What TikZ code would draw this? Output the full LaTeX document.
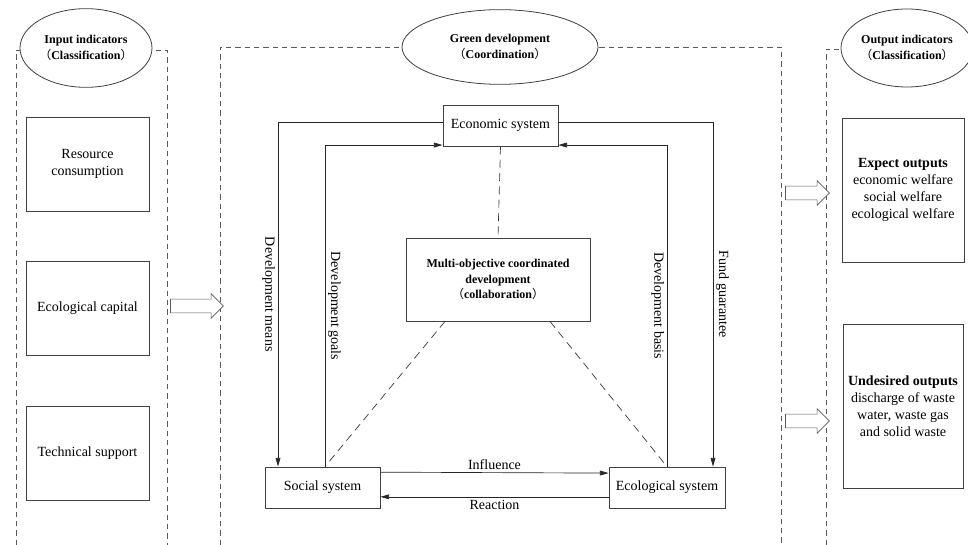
\documentclass[tikz,border=0pt]{standalone}
\usepackage{fontspec}
\setmainfont{Liberation Serif}
\newfontfamily\cjk{Noto Sans CJK SC}
\usetikzlibrary{shapes.geometric, shapes.arrows, arrows.meta, positioning}
\newcommand{\fwlp}{{\cjk\mdseries （}}
\newcommand{\fwrp}{{\cjk\mdseries ）}}

\tikzset{
  box/.style={draw=black!75, line width=0.6pt, align=center, inner sep=2pt,
    font=\fontsize{10.5}{13}\selectfont},
  title/.style={ellipse, draw=black!75, fill=white, line width=0.6pt, align=center,
    inner sep=0pt, font=\bfseries\fontsize{9}{11.5}\selectfont},
  frame/.style={draw=black!65, line width=0.5pt, dash pattern=on 4pt off 3pt},
  link/.style={draw=black!85, line width=0.5pt, -{Triangle[length=6.5pt,width=3.6pt]}},
  tie/.style={draw=black!80, line width=0.5pt, dash pattern=on 6pt off 4pt},
  lbl/.style={inner sep=2pt, font=\fontsize{10.5}{13}\selectfont},
  fat/.style={single arrow, draw=black!65, fill=white, line width=0.5pt,
    inner xsep=0pt, inner ysep=4.9pt, single arrow head extend=4.1pt}
}

\begin{document}
\begin{tikzpicture}[x=0.75pt, y=-0.75pt]
    \path[use as bounding box, fill=white] (0,0) rectangle (968,545);
    % Dashed frames of the three columns
    \draw[frame] (16,545) -- (16,50) -- (167,50) -- (167,545);
    \draw[frame] (220,545) -- (220,47) -- (781,47) -- (781,545);
    \draw[frame] (826,545) -- (826,49) -- (968,49);

    % Column titles
    \node[title, minimum width=88.5pt, minimum height=59pt] (inTitle) at (86,48)
        {Input indicators\\{\fwlp}Classification{\fwrp}};
    \node[title, minimum width=147pt, minimum height=56pt] (greenTitle) at (500,47)
        {Green development\\{\fwlp}Coordination{\fwrp}};
    \node[title, minimum width=90pt, minimum height=58.5pt] (outTitle) at (907,48)
        {Output indicators\\{\fwlp}Classification{\fwrp}};

    % Input indicators
    \node[box, minimum width=92.25pt, minimum height=70.5pt] (res) at (87.5,164) {Resource\\consumption};
    \node[box, minimum width=92.25pt, minimum height=70.5pt] (ecocap) at (87.5,308) {Ecological capital};
    \node[box, minimum width=92.25pt, minimum height=70.5pt] (tech) at (87.5,453) {Technical support};

    % Systems
    \node[box, minimum width=86.25pt, minimum height=30.75pt] (econ) at (500.5,125.5) {Economic system};
    \node[box, minimum width=138pt, minimum height=62.25pt, font=\bfseries\fontsize{9}{11.5}\selectfont]
        (multi) at (498,279.5) {Multi-objective coordinated\\development\\{\fwlp}collaboration{\fwrp}};
    \node[box, minimum width=86.25pt, minimum height=30.75pt] (social) at (322.5,487.5) {Social system};
    \node[box, minimum width=87pt, minimum height=30.75pt] (ecol) at (667,487.5) {Ecological system};

    % Output indicators
    \node[box, minimum width=91.5pt, minimum height=108pt, font=\fontsize{10.5}{12.75}\selectfont]
        (expect) at (903,190) {\textbf{Expect outputs}\\economic welfare\\social welfare\\ecological welfare};
    \node[box, minimum width=90pt, minimum height=123pt, font=\fontsize{10.5}{12.75}\selectfont]
        (undesired) at (903,406) {\textbf{Undesired outputs}\\discharge of waste\\water, waste gas\\and solid waste};

    % Hollow arrows between columns
    \node[fat, minimum height=39.75pt] (arrIn) at (193.5,306) {};
    \node[fat, minimum height=33pt] (arrExp) at (804,193) {};
    \node[fat, minimum height=33pt] (arrUnd) at (804,421) {};

    % Line columns
    \coordinate (cMeans) at (278,122);
    \coordinate (cGoals) at (325,145);
    \coordinate (cBasis) at (667,145);
    \coordinate (cFund) at (713,122);

    % Links between the systems
    \draw[link] (econ.west |- cMeans) -| (social.north -| cMeans)
        node[lbl, pos=0.75, rotate=-90, anchor=north] (lMeans) {Development means};
    \draw[link] (social.north -| cGoals) |- ([yshift=1pt]econ.south west)
        node[lbl, pos=0.25, rotate=-90, anchor=south] (lGoals) {Development goals};
    \draw[link] (ecol.north -| cBasis) |- ([yshift=1pt]econ.south east)
        node[lbl, pos=0.25, rotate=-90, anchor=north] (lBasis) {Development basis};
    \draw[link] (econ.east |- cFund) -| (ecol.north -| cFund)
        node[lbl, pos=0.75, rotate=-90, anchor=south] (lFund) {Fund guarantee};
    \draw[link] ([yshift=11.5pt]social.east) -- ([yshift=10.8pt]ecol.west)
        node[lbl, midway, above] (lInf) {Influence};
    \draw[link] ([yshift=-7pt]ecol.west) -- ([yshift=-7pt]social.east)
        node[lbl, midway, below] (lRea) {Reaction};

    % Dashed ties to the coordination box
    \draw[tie] (econ.south) -- (multi.north);
    \draw[tie] ([xshift=-39.75pt]multi.south) -- (social.north -| cGoals);
    \draw[tie] ([xshift=39pt]multi.south) -- (ecol.north -| cBasis);
\end{tikzpicture}
\end{document}
